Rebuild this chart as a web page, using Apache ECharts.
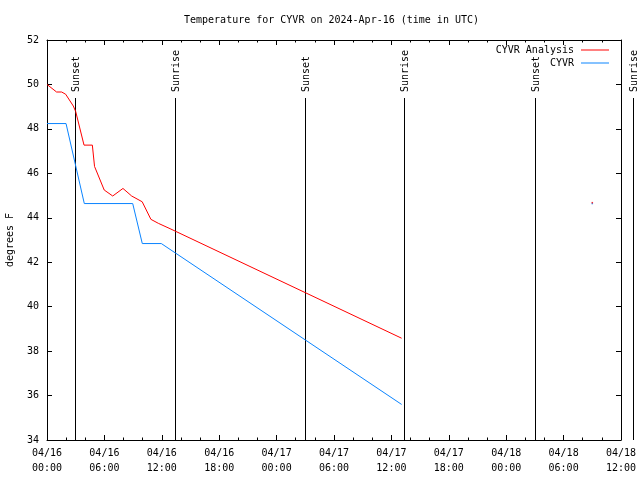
<!DOCTYPE html>
<html>
<head>
<meta charset="utf-8">
<script src="https://cdn.jsdelivr.net/npm/echarts@6/dist/echarts.min.js"></script>
<style>html,body{margin:0;padding:0;background:#fff;}#c{width:640px;height:480px;}</style>
</head>
<body>
<div id="c"></div>
<script>
// Hours since 2024-04-16 00:00 UTC
const analysisHours = [0, 1.0, 1.53, 1.95, 2.75, 3.0, 3.87, 4.74, 4.97, 5.98, 6.87, 7.94, 8.85, 9.95, 10.86, 11.64, 12.86, 37.07];
const analysisTemps = [50.0, 49.66, 49.66, 49.56, 49.03, 48.78, 47.27, 47.27, 46.31, 45.25, 44.98, 45.32, 44.98, 44.72, 43.93, 43.75, 43.51, 38.58];
const obsHours = [0, 1.99, 3.9, 8.96, 9.96, 11.95, 37.07];
const obsTemps = [48.24, 48.24, 44.64, 44.64, 42.84, 42.84, 35.6];
const analysisLoneHour = [57.0];
const analysisLoneTemp = [44.68];
const obsLoneHour = [57.0];
const obsLoneTemp = [44.64];
const sunHours = [2.95, 13.35, 26.98, 37.32, 51.0, 61.27];
const sunLabels = ['Sunset', 'Sunrise', 'Sunset', 'Sunrise', 'Sunset', 'Sunrise'];
const xTickLabels = ['04/16\n00:00', '04/16\n06:00', '04/16\n12:00', '04/16\n18:00', '04/17\n00:00', '04/17\n06:00', '04/17\n12:00', '04/17\n18:00', '04/18\n00:00', '04/18\n06:00', '04/18\n12:00'];
const yTicks = [34, 36, 38, 40, 42, 44, 46, 48, 50, 52];

const FONT = 'DejaVu Sans Mono';
const zip = (a, b) => a.map((v, i) => [v, b[i]]);

const chart = echarts.init(document.getElementById('c'), null, {renderer: 'canvas'});

const xBase = {
  type: 'value', min: 0, max: 60, interval: 6,
  axisLine: {show: true, onZero: false, lineStyle: {color: '#000', width: 1}},
  axisTick: {show: true, inside: true, length: 5, lineStyle: {color: '#000'}},
  minorTick: {show: true, splitNumber: 3, length: 2.5, lineStyle: {color: '#000'}},
  splitLine: {show: false}
};
const yBase = {
  type: 'value', min: yTicks[0], max: yTicks[yTicks.length - 1], interval: 2,
  axisLine: {show: true, onZero: false, lineStyle: {color: '#000', width: 1}},
  axisTick: {show: true, inside: true, length: 5, lineStyle: {color: '#000'}},
  splitLine: {show: false}
};

chart.setOption({
  animation: false,
  backgroundColor: '#fff',
  title: {
    text: 'Temperature for CYVR on 2024-Apr-16 (time in UTC)',
    left: 184, top: 15, padding: 0,
    textStyle: {fontFamily: FONT, fontSize: 10, fontWeight: 'normal', color: '#000'}
  },
  legend: {
    orient: 'vertical', align: 'right', right: 31, top: 45, padding: 0,
    itemWidth: 28, itemHeight: 1, itemGap: 3,
    data: [{name: 'CYVR Analysis', icon: 'rect'}, {name: 'CYVR', icon: 'rect'}],
    textStyle: {fontFamily: FONT, fontSize: 10, color: '#000', padding: [0, 2, 0, 0]}
  },
  grid: {left: 47, right: 19, top: 40, bottom: 40, containLabel: false, outerBoundsMode: 'none'},
  xAxis: [
    Object.assign({}, xBase, {
      position: 'bottom',
      axisLabel: {
        show: true, margin: 6, lineHeight: 15,
        fontFamily: FONT, fontSize: 10, color: '#000',
        formatter: v => xTickLabels[Math.round(v / 6)] || ''
      }
    }),
    Object.assign({}, xBase, {position: 'top', axisLabel: {show: false}})
  ],
  yAxis: [
    Object.assign({}, yBase, {
      position: 'left',
      name: 'degrees F', nameLocation: 'middle', nameRotate: 90, nameGap: 32,
      nameTextStyle: {fontFamily: FONT, fontSize: 10, color: '#000'},
      axisLabel: {show: true, margin: 8, fontFamily: FONT, fontSize: 10, color: '#000'}
    }),
    Object.assign({}, yBase, {position: 'right', axisLabel: {show: false}})
  ],
  series: [
    {
      name: 'CYVR Analysis', type: 'line', xAxisIndex: 0, yAxisIndex: 0,
      data: zip(analysisHours, analysisTemps), symbol: 'none', showSymbol: false,
      lineStyle: {color: '#ff0000', width: 1}, itemStyle: {color: '#ff0000'}, z: 4
    },
    {
      name: 'CYVR', type: 'line', xAxisIndex: 0, yAxisIndex: 0,
      data: zip(obsHours, obsTemps), symbol: 'none', showSymbol: false,
      lineStyle: {color: '#0a84ff', width: 1}, itemStyle: {color: '#0a84ff'}, z: 3
    },
    {
      name: 'CYVR lone', type: 'scatter', data: zip(obsLoneHour, obsLoneTemp),
      symbol: 'rect', symbolSize: [1.5, 1.5], itemStyle: {color: '#0a84ff'}, z: 3
    },
    {
      name: 'CYVR Analysis lone', type: 'scatter', data: zip(analysisLoneHour, analysisLoneTemp),
      symbol: 'rect', symbolSize: [1.5, 1.5], itemStyle: {color: '#ff0000'}, z: 4
    },
    {
      name: 'sun', type: 'custom', clip: false, z: 2,
      data: sunHours.map((h, i) => [h, i]),
      renderItem: function (params, api) {
        const h = api.value(0);
        const idx = api.value(1);
        const bottom = api.coord([h, yTicks[0]]);
        const top = api.coord([h, yTicks[yTicks.length - 1]]);
        const x = Math.round(bottom[0]) + 0.5;
        return {
          type: 'group',
          children: [
            {
              type: 'line',
              shape: {x1: x, y1: top[1] + 58, x2: x, y2: bottom[1]},
              style: {stroke: '#000', lineWidth: 1}
            },
            {
              type: 'text',
              x: x + 1, y: top[1] + 52,
              rotation: Math.PI / 2,
              style: {
                text: sunLabels[idx], x: 0, y: 0,
                align: 'left', verticalAlign: 'middle',
                font: '10px "' + FONT + '"', fill: '#000'
              }
            }
          ]
        };
      }
    }
  ]
});
</script>
</body>
</html>
